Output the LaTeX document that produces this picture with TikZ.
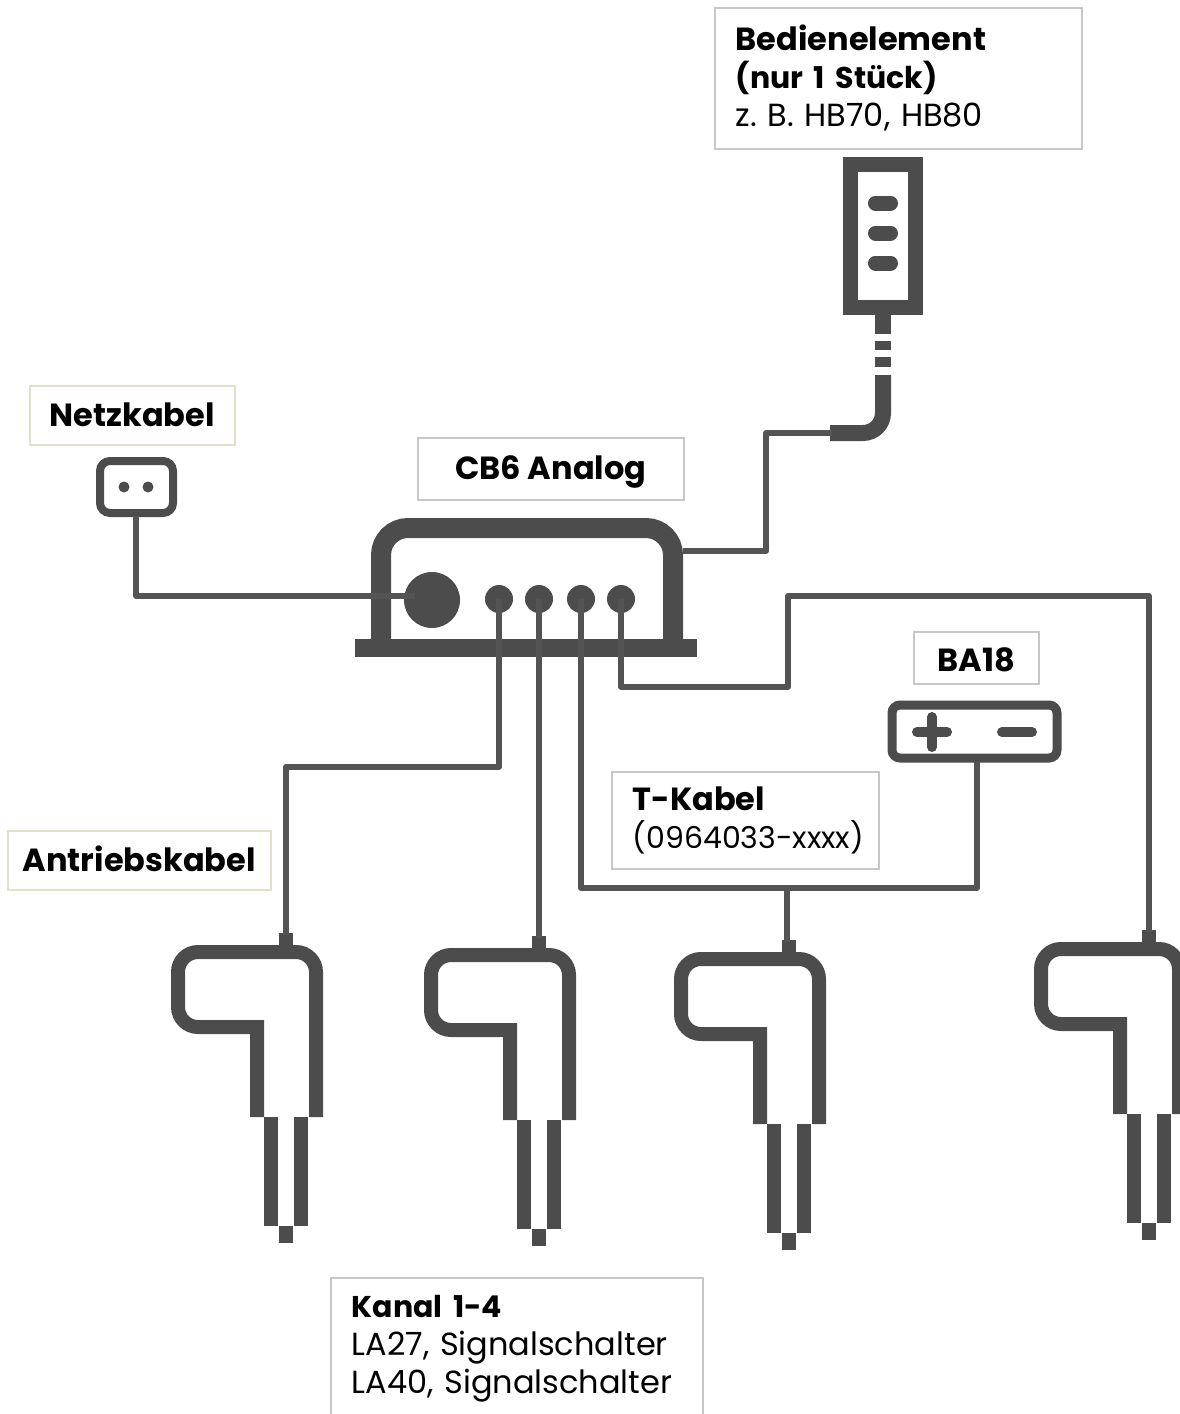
\documentclass[tikz,border=0pt]{standalone}
\usepackage{fontspec}
\setmainfont{Poppins}
\usepackage{tikz}
\usetikzlibrary{calc, positioning}
\definecolor{iconGray}{gray}{0.3}
\definecolor{wireGray}{gray}{0.33}
\definecolor{boxGray}{gray}{0.78}
\definecolor{boxBeige}{HTML}{E2DFCB}
\newcommand{\narrowline}[1]{\mbox{\fontsize{30}{38}\selectfont #1}}
\tikzset{
    labelbox/.style={draw=boxGray, line width=1.5pt, fill=white, anchor=north west, inner sep=0pt, font=\fontsize{32}{38}\selectfont\frenchspacing},
    oneline/.style={text height=30pt, text depth=8pt},
    wire/.style={draw=wireGray, line width=5.5pt, line join=round},
    icon/.style={draw=iconGray, line join=miter},
    port/.style={circle, fill=iconGray, inner sep=0pt, minimum size=28pt},
    actuator/.pic={
        \draw[icon, line width=14pt] (-29,184) -- (-29,94) [rounded corners=20pt] -- (-108,94) -- (-108,19) -- (30,19) -- (30,184);
        \fill[iconGray] (-7,0) rectangle (7,17);
        \fill[iconGray] (-22,184) rectangle (-8,293);
        \fill[iconGray] (8,184) rectangle (22,293);
        \fill[iconGray] (-7,293) rectangle (7,310);
        \coordinate (-top) at (0,2);
    }
}
\begin{document}
\begin{tikzpicture}[x=1pt, y=-1pt, >=stealth]
    \useasboundingbox (0,0) rectangle (1179,1414);
    
    % control box
    \draw[icon, line width=20pt, rounded corners=27pt] (381,648) -- (381,528) -- (673,528) -- (673,648);
    \fill[iconGray] (355,639) rectangle (697,657);
    \node[port, minimum size=56pt] (mains) at (432,600) {};
    \node[port] (port1) at (499,599) {};
    \node[port] (port2) at (539,599) {};
    \node[port] (port3) at (581,599) {};
    \node[port] (port4) at (621,599) {};
    \coordinate (mainsin) at (415,596);
    \coordinate (boxout) at (683,551);
    
    % socket
    \draw[icon, line width=8pt, rounded corners=10pt] (100,461) rectangle (173,513);
    \fill[iconGray] (124,487) circle (5.5) (148,487) circle (5.5);
    \coordinate (plug) at (136,516);
    
    % hand control
    \draw[icon, line width=15pt] (850.5,164) rectangle (915.5,307.5);
    \foreach \y in {203,233,263}
        \draw[iconGray, line width=15pt, line cap=round] (875.5,\y) -- (890.5,\y);
    \fill[iconGray] (875,314) rectangle (891,334);
    \fill[iconGray] (875,341) rectangle (891,350);
    \fill[iconGray] (875,357) rectangle (891,367);
    \draw[icon, line width=16pt, rounded corners=20pt] (883,375) -- (883,433) -- (830,433);
    \coordinate (hand) at (832,433);
    
    % BA18
    \draw[icon, line width=9pt, rounded corners=8pt] (892,705) rectangle (1057,758);
    \draw[iconGray, line width=10pt, line cap=round] (917,732) -- (947,732) (932,717) -- (932,747);
    \draw[iconGray, line width=10pt, line cap=round] (1002,732) -- (1032,732);
    \coordinate (batt) at (977,762);
    
    % actuators
    \pic (act1) at (286,933) {actuator};
    \pic (act2) at (539,936) {actuator};
    \pic (act3) at (789,940) {actuator};
    \pic (act4) at (1149,930) {actuator};
    
    % wires
    \draw[wire] (plug) |- (mainsin);
    \draw[wire] (boxout) -- (766,551) -- (766,433) -- (hand);
    \draw[wire] (port1.center) -- (499,767) -- (286,767) -- (act1-top);
    \draw[wire] (port2.center) -- (act2-top);
    \draw[wire] (port3.center) -- (581,888) -- (977,888) -- (batt);
    \coordinate (tee) at (787,888);
    \draw[wire] (tee) -- (787,942);
    \draw[wire] (port4.center) -- (621,687) -- (788,687) -- (788,596) -- (1149,596) -- (act4-top);
    
    % labels
    \node[labelbox, minimum width=367pt, minimum height=141pt, text width=325pt, align=left] (hb) at (714,7) {\textbf{Bedienelement}\\\narrowline{\textbf{(nur 1 Stück)}}\\z. B. HB70, HB80};
    \node[labelbox, oneline, draw=boxBeige, minimum width=205pt, minimum height=59pt] (netz) at (29,385) {\textbf{Netzkabel}};
    \node[labelbox, oneline, minimum width=266pt, minimum height=62pt] (cb) at (417,437) {\textbf{CB6 Analog}};
    \node[labelbox, oneline, text height=36pt, minimum width=125pt, minimum height=52pt] (ba) at (913,631) {\textbf{BA18}};
    \node[labelbox, minimum width=267pt, minimum height=97pt, text width=225pt, align=left] (tk) at (611,771) {\textbf{T-Kabel}\\\narrowline{(0964033-xxxx)}};
    \node[labelbox, oneline, draw=boxBeige, minimum width=263pt, minimum height=59pt] (ak) at (7,830) {\textbf{Antriebskabel}};
    \node[labelbox, minimum width=372pt, minimum height=142pt, text width=330pt, align=left] (ka) at (330,1277) {\narrowline{\textbf{Kanal 1-4}}\\LA27, Signalschalter\\LA40, Signalschalter};
\end{tikzpicture}
\end{document}
